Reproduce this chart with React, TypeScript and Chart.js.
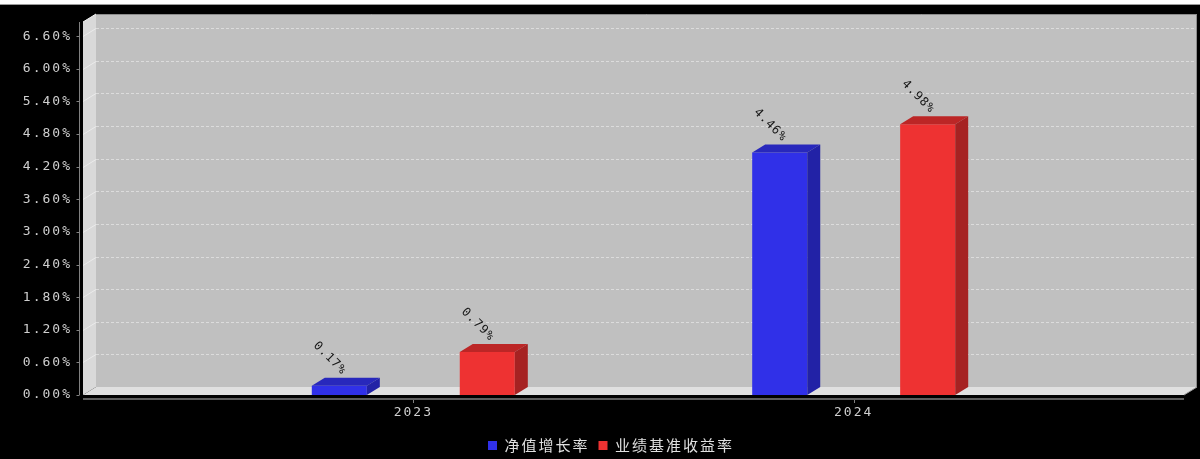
import React, { useEffect, useRef } from 'react';
import { Chart, registerables } from 'chart.js';

Chart.register(...registerables);

const categories = ['2023', '2024'];
const netValueGrowth = [0.17, 4.46];
const benchmarkReturn = [0.79, 4.98];
const seriesNames = ['净值增长率', '业绩基准收益率'];
const yTickValues = [0, 0.6, 1.2, 1.8, 2.4, 3.0, 3.6, 4.2, 4.8, 5.4, 6.0, 6.6];
const yMax = 6.86;

const DX = 13;
const DY = 8;

const faceColors = [
  { front: '#3030e8', top: '#2828bc', side: '#2222a6' },
  { front: '#ee3232', top: '#bc2626', side: '#a62222' },
];

function poly(ctx: CanvasRenderingContext2D, pts: number[][]) {
  ctx.beginPath();
  ctx.moveTo(pts[0][0], pts[0][1]);
  for (let i = 1; i < pts.length; i++) ctx.lineTo(pts[i][0], pts[i][1]);
  ctx.closePath();
  ctx.fill();
}

function line(ctx: CanvasRenderingContext2D, x1: number, y1: number, x2: number, y2: number) {
  ctx.beginPath();
  ctx.moveTo(x1, y1);
  ctx.lineTo(x2, y2);
  ctx.stroke();
}

const spacingPlugin = {
  id: 'spacing',
  beforeLayout(chart: any) {
    chart.ctx.letterSpacing = '2px';
  },
  beforeDraw(chart: any) {
    chart.ctx.letterSpacing = '2px';
  },
};

const wallsPlugin = {
  id: 'walls',
  beforeDatasetsDraw(chart: any) {
    const { ctx, chartArea, scales } = chart;
    const { left, right, top, bottom } = chartArea;
    const ys = scales.y;
    const xs = scales.x;
    ctx.save();
    // back wall
    ctx.fillStyle = '#c0c0c0';
    ctx.fillRect(left + DX, top - DY, right - left, bottom - top);
    // left wall
    ctx.fillStyle = '#d9d9d9';
    poly(ctx, [[left, top], [left + DX, top - DY], [left + DX, bottom - DY], [left, bottom]]);
    // floor
    ctx.fillStyle = '#e0e0e0';
    poly(ctx, [[left, bottom], [left + DX, bottom - DY], [right + DX, bottom - DY], [right, bottom]]);
    // grid lines on back wall
    ctx.lineWidth = 1;
    ctx.setLineDash([3, 2]);
    ctx.strokeStyle = '#dcdcdc';
    ys.ticks.forEach((t: any, i: number) => {
      if (t.value === 0) return;
      const py = Math.round(ys.getPixelForTick(i)) + 0.5;
      line(ctx, left + DX, py - DY, right + DX, py - DY);
    });
    ctx.setLineDash([]);
    // diagonals on left wall
    ctx.strokeStyle = '#ebebeb';
    ys.ticks.forEach((t: any, i: number) => {
      if (t.value === 0) return;
      const py = Math.round(ys.getPixelForTick(i)) + 0.5;
      line(ctx, left, py, left + DX, py - DY);
    });
    // wall borders
    ctx.strokeStyle = '#8c8c8c';
    line(ctx, left + DX, top - DY + 0.5, right + DX, top - DY + 0.5);
    line(ctx, right + DX - 0.5, top - DY, right + DX - 0.5, bottom - DY);
    ctx.strokeStyle = '#f2f2f2';
    line(ctx, left, top, left + DX, top - DY);
    ctx.strokeStyle = '#9a9a9a';
    line(ctx, right, bottom, right + DX, bottom - DY);
    // y axis line and ticks
    ctx.strokeStyle = '#808080';
    const ax = left - 3.5;
    line(ctx, ax, top, ax, bottom);
    ys.ticks.forEach((_t: any, i: number) => {
      const py = Math.round(ys.getPixelForTick(i)) + 0.5;
      line(ctx, ax - 3, py, ax, py);
    });
    // x axis line and ticks
    ctx.strokeStyle = '#5e5e5e';
    ctx.lineWidth = 2;
    line(ctx, left, bottom + 4, right, bottom + 4);
    ctx.lineWidth = 1;
    ctx.strokeStyle = '#808080';
    xs.ticks.forEach((_t: any, i: number) => {
      const px = Math.round(xs.getPixelForTick(i)) + 0.5;
      line(ctx, px, bottom + 5, px, bottom + 8);
    });
    ctx.restore();
  },
};

const bars3dPlugin = {
  id: 'bars3d',
  afterDatasetsDraw(chart: any) {
    const ctx = chart.ctx;
    chart.data.datasets.forEach((ds: any, di: number) => {
      const meta = chart.getDatasetMeta(di);
      const c = faceColors[di];
      meta.data.forEach((bar: any, i: number) => {
        const { x, y, base, width } = bar.getProps(['x', 'y', 'base', 'width'], true);
        const l = x - width / 2;
        const r = x + width / 2;
        ctx.save();
        ctx.fillStyle = c.top;
        poly(ctx, [[l, y], [l + DX, y - DY], [r + DX, y - DY], [r, y]]);
        ctx.fillStyle = c.side;
        poly(ctx, [[r, y], [r + DX, y - DY], [r + DX, base - DY], [r, base]]);
        // data label
        const v = ds.data[i].y;
        ctx.letterSpacing = '1px';
        ctx.font = '12px "DejaVu Sans Mono"';
        ctx.fillStyle = '#151515';
        ctx.textAlign = 'right';
        ctx.textBaseline = 'middle';
        ctx.translate(x + 5, y - 13);
        ctx.rotate(Math.PI / 4);
        ctx.fillText(v.toFixed(2) + '%', 0, 0);
        ctx.restore();
      });
    });
  },
};

export default function App() {
  const canvasRef = useRef<HTMLCanvasElement | null>(null);

  useEffect(() => {
    document.body.style.margin = '0';
    const canvas = canvasRef.current;
    if (!canvas) return;
    const seriesValues = [netValueGrowth, benchmarkReturn];
    const chart = new Chart(canvas, {
      type: 'bar',
      data: {
        datasets: seriesValues.map((vals, si) => ({
          label: seriesNames[si],
          data: categories.map((_c, i) => ({ x: i, y: vals[i] })),
          backgroundColor: faceColors[si].front,
          borderWidth: 0,
          categoryPercentage: 0.672,
          barPercentage: 0.372,
        })),
      },
      options: {
        responsive: false,
        animation: false,
        layout: { padding: { top: 22, left: 22, right: 0, bottom: -4 } },
        plugins: {
          legend: {
            position: 'bottom',
            labels: {
              color: '#e0e0e0',
              font: { family: '"Noto Sans CJK SC"', size: 15 },
              boxWidth: 9,
              boxHeight: 9,
              padding: 9,
            },
          },
          tooltip: { enabled: false },
        },
        scales: {
          x: {
            type: 'linear',
            min: -0.75,
            max: 1.75,
            offset: false,
            afterBuildTicks: (s: any) => {
              s.ticks = categories.map((_c, i) => ({ value: i }));
            },
            afterFit: (s: any) => {
              s.height = 34;
            },
            grid: { display: false, drawTicks: false },
            border: { display: false },
            ticks: {
              color: '#cfcfcf',
              font: { family: '"DejaVu Sans Mono"', size: 13 },
              padding: 10,
              autoSkip: false,
              maxRotation: 0,
              callback: (v: any) => categories[v] ?? '',
            },
          },
          y: {
            min: 0,
            max: yMax,
            afterBuildTicks: (s: any) => {
              s.ticks = yTickValues.map((v) => ({ value: v }));
            },
            afterFit: (s: any) => {
              s.width = 61;
            },
            grid: { display: false, drawTicks: false },
            border: { display: false },
            ticks: {
              color: '#cfcfcf',
              font: { family: '"DejaVu Sans Mono"', size: 13 },
              padding: 11,
              autoSkip: false,
              callback: (v: any) => Number(v).toFixed(2) + '%',
            },
          },
          yR: {
            position: 'right',
            display: true,
            afterFit: (s: any) => {
              s.width = 16;
            },
            grid: { display: false, drawTicks: false },
            border: { display: false },
            ticks: { display: false },
          },
        },
      } as any,
      plugins: [spacingPlugin, wallsPlugin, bars3dPlugin],
    });
    return () => chart.destroy();
  }, []);

  return (
    <div style={{ position: 'relative', width: 1200, height: 459, background: '#000', overflow: 'hidden' }}>
      <div
        style={{
          position: 'absolute',
          left: 0,
          top: 0,
          width: 1200,
          height: 4,
          background: '#ffffff',
          borderBottom: '1px solid #9a9a9a',
          zIndex: 2,
        }}
      />
      <canvas ref={canvasRef} width={1200} height={459} style={{ position: 'absolute', left: 0, top: 0, display: 'block' }} />
    </div>
  );
}
